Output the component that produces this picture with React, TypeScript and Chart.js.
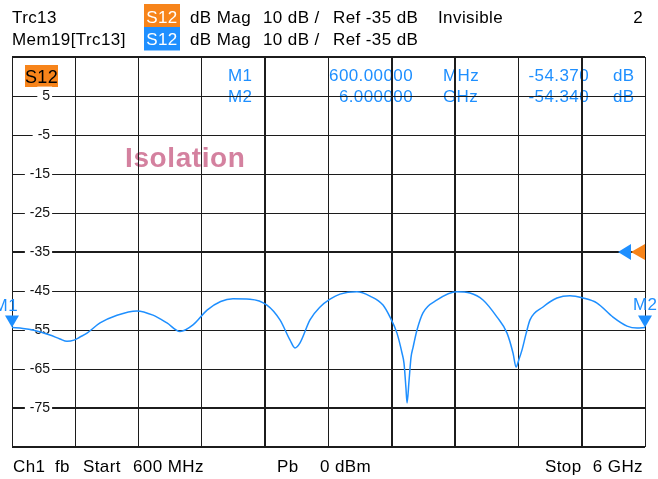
import React, { useEffect, useRef } from 'react';
import { Chart, registerables } from 'chart.js';

Chart.register(...registerables);

// ---- data ----
const FREQ_GHZ = [
  0.6, 0.694, 0.779, 0.924, 1.009, 1.069, 1.129, 1.18, 1.24, 1.351, 1.496, 1.666, 1.803, 1.922,
  2.033, 2.144, 2.264, 2.38, 2.485, 2.63, 2.775, 2.886, 2.972, 3.014, 3.057, 3.142, 3.228, 3.313,
  3.398, 3.543, 3.654, 3.765, 3.825, 3.884, 3.927, 3.944, 3.961, 3.97, 3.987, 4.004, 4.021, 4.055,
  4.106, 4.226, 4.396, 4.507, 4.618, 4.738, 4.823, 4.874, 4.9, 4.925, 4.951, 4.985, 5.019, 5.13,
  5.249, 5.36, 5.471, 5.591, 5.727, 5.847, 5.932, 6.0,
];
const S12_DB = [
  -54.37, -54.6, -55.0, -56.3, -57.3, -57.9, -57.6, -56.8, -55.8, -53.2, -51.2, -50.1, -51.2, -53.2,
  -55.4, -53.7, -49.9, -47.7, -47.0, -47.1, -48.6, -52.4, -57.6, -59.6, -58.3, -52.4, -49.1, -47.1,
  -45.8, -45.2, -46.3, -48.6, -51.7, -55.8, -60.9, -63.5, -70.0, -73.7, -68.0, -62.0, -59.5, -55.0,
  -50.6, -47.3, -45.2, -45.5, -47.3, -51.7, -55.8, -60.9, -64.5, -62.5, -60.1, -56.0, -52.4, -49.1,
  -46.8, -46.2, -46.8, -48.1, -51.7, -54.0, -54.5, -54.34,
];

const X_MIN = 0.6;
const X_MAX = 6.0;
const X_DIVISIONS = [0.6, 1.14, 1.68, 2.22, 2.76, 3.3, 3.84, 4.38, 4.92, 5.46, 6.0];
const Y_TICKS = [-85, -75, -65, -55, -45, -35, -25, -15, -5, 5, 15];
const Y_LABELED = [-75, -65, -55, -45, -35, -25, -15, -5, 5];
const REF_LEVEL = -35;
const SCALE_DIV = 10;

const MARKER_NAMES = ['M1', 'M2'];
const MARKER_FREQ_GHZ = [0.6, 6.0];
const MARKER_DB = [-54.37, -54.34];
const MARKER_FREQ_TEXT = ['600.00000', '6.000000'];
const MARKER_UNITS = ['MHz', 'GHz'];

const TRACE_NAME = 'Trc13';
const MEM_NAME = 'Mem19[Trc13]';
const PARAM = 'S12';
const FORMAT = 'dB Mag';
const TITLE = 'Isolation';
const FOOTER_LEFT = ['Ch1', 'fb', 'Start', '600 MHz'];
const FOOTER_MID = ['Pb', '0', 'dBm'];
const FOOTER_RIGHT = ['Stop', '6 GHz'];

// ---- styles ----
const ORANGE = '#F7841A';
const BLUE = '#1E8FFF';
const PINK = '#D4819F';
const GRID = '#1c1c1c';
const FONT = '"Liberation Sans", Arial, sans-serif';
const Y_LABEL_ANCHOR_GHZ = 0.925;
const THICK_X_INDEX = [4, 6, 7, 9];
const THICK_Y_VALUES = [-85, -75, -35, 15];

function txt(ctx: CanvasRenderingContext2D, s: string, x: number, y: number, o: any = {}) {
  ctx.save();
  ctx.font = `${o.weight || 'normal'} ${o.size || 17}px ${FONT}`;
  ctx.fillStyle = o.color || '#000';
  ctx.textAlign = o.align || 'left';
  ctx.textBaseline = 'alphabetic';
  (ctx as any).letterSpacing = o.spacing || '0.4px';
  ctx.fillText(s, x, y);
  ctx.restore();
}

const vnaPlugin = {
  id: 'vnaAnnotations',
  beforeDraw(chart: any) {
    const ctx: CanvasRenderingContext2D = chart.ctx;
    const a = chart.chartArea;
    ctx.save();
    ctx.fillStyle = '#fff';
    ctx.fillRect(0, 0, chart.width, chart.height);

    // header row 1
    const b1 = 22.5;
    txt(ctx, TRACE_NAME, 12, b1);
    ctx.fillStyle = ORANGE;
    ctx.fillRect(144, 4, 36, 23);
    txt(ctx, PARAM, 162, b1, { color: '#fff', align: 'center' });
    txt(ctx, FORMAT, 190, b1);
    txt(ctx, `${SCALE_DIV} dB /`, 263, b1);
    txt(ctx, `Ref ${REF_LEVEL} dB`, 333, b1);
    txt(ctx, 'Invisible', 438, b1);
    txt(ctx, '2', 643, b1, { align: 'right' });

    // header row 2
    const b2 = 45;
    txt(ctx, MEM_NAME, 12, b2);
    ctx.fillStyle = BLUE;
    ctx.fillRect(144, 27, 36, 23.5);
    txt(ctx, PARAM, 162, b2, { color: '#fff', align: 'center' });
    txt(ctx, FORMAT, 190, b2);
    txt(ctx, `${SCALE_DIV} dB /`, 263, b2);
    txt(ctx, `Ref ${REF_LEVEL} dB`, 333, b2);

    // footer
    const bf = 471.5;
    const fx = [13, 55, 83, 133];
    FOOTER_LEFT.forEach((s, i) => txt(ctx, s, fx[i], bf));
    const mx = [277, 320, 335];
    FOOTER_MID.forEach((s, i) => txt(ctx, s, mx[i], bf));
    txt(ctx, FOOTER_RIGHT[0], 545, bf);
    txt(ctx, FOOTER_RIGHT[1], 643, bf, { align: 'right' });

    // trace badge in plot
    ctx.fillStyle = ORANGE;
    ctx.fillRect(a.left + 13, a.top + 8, 33, 22);
    txt(ctx, PARAM, a.left + 29.5, a.top + 25.5, { align: 'center', size: 18 });

    // marker table
    const rows = [a.top + 24, a.top + 45];
    MARKER_NAMES.forEach((m, i) => {
      const y = rows[i];
      txt(ctx, m, 228, y, { color: BLUE });
      txt(ctx, MARKER_FREQ_TEXT[i], 413, y, { color: BLUE, align: 'right' });
      txt(ctx, MARKER_UNITS[i], 443, y, { color: BLUE });
      txt(ctx, MARKER_DB[i].toFixed(3), 589, y, { color: BLUE, align: 'right' });
      txt(ctx, 'dB', 613, y, { color: BLUE });
    });

    // title
    txt(ctx, TITLE, 125, 166.5, { color: PINK, weight: 'bold', size: 28, spacing: '0.6px' });
    ctx.restore();
  },
  afterDatasetsDraw(chart: any) {
    const ctx: CanvasRenderingContext2D = chart.ctx;
    const a = chart.chartArea;
    const xs = chart.scales.x;
    const ys = chart.scales.y;
    ctx.save();
    // markers
    MARKER_NAMES.forEach((m, i) => {
      const px = xs.getPixelForValue(MARKER_FREQ_GHZ[i]);
      const py = ys.getPixelForValue(MARKER_DB[i]);
      ctx.fillStyle = BLUE;
      ctx.beginPath();
      ctx.moveTo(px - 7, py - 12);
      ctx.lineTo(px + 7, py - 12);
      ctx.lineTo(px, py);
      ctx.closePath();
      ctx.fill();
      if (i === 0) txt(ctx, m, px + 6, py - 17, { color: BLUE, align: 'right' });
      else txt(ctx, m, px - 12, py - 17, { color: BLUE });
    });
    // reference level arrows
    const ry = ys.getPixelForValue(REF_LEVEL);
    const r = a.right;
    ctx.fillStyle = ORANGE;
    ctx.beginPath();
    ctx.moveTo(r - 14, ry);
    ctx.lineTo(r, ry - 8);
    ctx.lineTo(r, ry + 8);
    ctx.closePath();
    ctx.fill();
    ctx.fillStyle = BLUE;
    ctx.beginPath();
    ctx.moveTo(r - 27, ry);
    ctx.lineTo(r - 14, ry - 8);
    ctx.lineTo(r - 14, ry + 8);
    ctx.closePath();
    ctx.fill();
    ctx.restore();
  },
};

export default function App() {
  const ref = useRef<HTMLCanvasElement | null>(null);
  useEffect(() => {
    if (!ref.current) return;
    Chart.defaults.font.family = FONT;
    const chart = new Chart(ref.current, {
      type: 'line',
      data: {
        datasets: [
          {
            label: PARAM,
            data: FREQ_GHZ.map((f, i) => ({ x: f, y: S12_DB[i] })),
            borderColor: BLUE,
            borderWidth: 1.5,
            pointRadius: 0,
            fill: false,
            cubicInterpolationMode: 'monotone',
          },
        ],
      },
      options: {
        responsive: false,
        animation: false,
        events: [],
        layout: { padding: { left: 12, right: 13, top: 57, bottom: 32 } },
        plugins: { legend: { display: false }, tooltip: { enabled: false } },
        scales: {
          x: {
            type: 'linear',
            min: X_MIN,
            max: X_MAX,
            afterBuildTicks: (s: any) => {
              s.ticks = X_DIVISIONS.map((v) => ({ value: v }));
            },
            ticks: { display: false },
            grid: {
              color: GRID,
              lineWidth: (c: any) => (THICK_X_INDEX.includes(c.index) ? 2 : 1),
              drawTicks: false,
            },
            border: { display: false },
          },
          y: {
            type: 'linear',
            min: -85,
            max: 15,
            position: { x: Y_LABEL_ANCHOR_GHZ } as any,
            afterBuildTicks: (s: any) => {
              s.ticks = Y_TICKS.map((v) => ({ value: v }));
            },
            ticks: {
              padding: 0,
              font: { family: FONT, size: 14 },
              color: '#111',
              callback: (v: any) => (Y_LABELED.includes(Number(v)) ? String(v) : ''),
              showLabelBackdrop: (c: any) => Y_LABELED.includes(c.tick.value),
              backdropColor: '#fff',
              backdropPadding: { left: 5, right: 2, top: 1, bottom: 1 },
            } as any,
            grid: {
              color: GRID,
              lineWidth: (c: any) => (THICK_Y_VALUES.includes(c.tick.value) ? 2 : 1),
              drawTicks: false,
            },
            border: { display: false },
          },
        },
      } as any,
      plugins: [vnaPlugin],
    });
    return () => chart.destroy();
  }, []);
  return (
    <div style={{ position: 'absolute', left: 0, top: 0, width: 658, height: 479, background: '#fff' }}>
      <canvas ref={ref} width={658} height={479} style={{ display: 'block' }} />
    </div>
  );
}
